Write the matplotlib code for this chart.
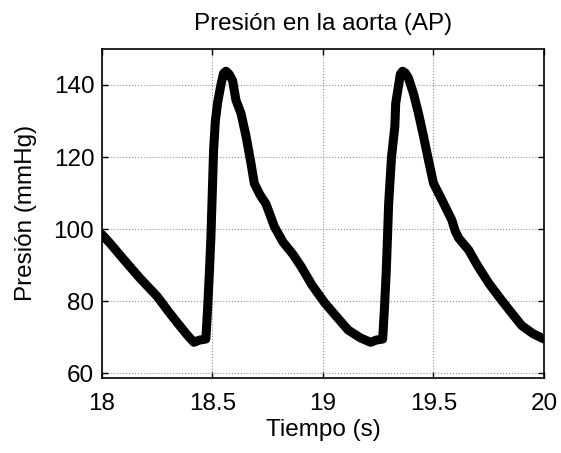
import numpy as np
import matplotlib
matplotlib.use("Agg")
import matplotlib.pyplot as plt

# aortic pressure trace (time in s, pressure in mmHg)
t = [18.000, 18.040, 18.098, 18.170, 18.250, 18.300, 18.341, 18.386, 18.416, 18.440,
     18.470, 18.478, 18.486, 18.493, 18.499, 18.505, 18.513, 18.523, 18.538, 18.550,
     18.561, 18.575, 18.591, 18.606, 18.629, 18.652, 18.674, 18.689, 18.715, 18.742,
     18.780, 18.818, 18.864, 18.901, 18.950, 19.007, 19.060, 19.114, 19.170, 19.216,
     19.240, 19.270, 19.278, 19.286, 19.292, 19.297, 19.310, 19.325, 19.329, 19.341,
     19.350, 19.360, 19.373, 19.386, 19.409, 19.432, 19.455, 19.477, 19.500, 19.538,
     19.583, 19.598, 19.614, 19.659, 19.700, 19.750, 19.795, 19.850, 19.900, 19.950,
     20.000]
p = [98.5, 95.8, 91.6, 86.5, 81.3, 77.2, 74.0, 70.6, 68.6, 69.2,
     69.5, 78.0, 88.0, 98.0, 110.0, 122.0, 130.0, 135.0, 140.0, 143.2,
     143.8, 143.0, 141.2, 135.8, 132.1, 125.7, 118.3, 112.7, 109.5, 107.0,
     100.7, 96.5, 93.0, 89.6, 84.5, 79.6, 75.8, 72.0, 69.8, 68.6,
     69.2, 69.5, 78.0, 88.0, 98.0, 107.0, 120.0, 128.4, 134.9, 139.5,
     143.0, 143.8, 143.3, 142.0, 137.7, 132.1, 125.7, 119.2, 112.7, 108.1,
     102.5, 99.5, 97.5, 94.2, 89.8, 85.0, 81.3, 77.0, 73.2, 71.0,
     69.5]

xticks = [18, 18.5, 19, 19.5, 20]
xtick_labels = ["18", "18.5", "19", "19.5", "20"]
yticks = [60, 80, 100, 120, 140]

plt.rcParams['font.family'] = ['Liberation Sans', 'DejaVu Sans']
fs = 17.5

fig = plt.figure(figsize=(5.61, 4.53), dpi=100)
ax = fig.add_axes([0.1818, 0.1656, 0.9697 - 0.1818, 0.8929 - 0.1656])

ax.plot(t, p, color='black', linewidth=6.5, solid_capstyle='round', solid_joinstyle='round')

ax.set_xlim(18, 20)
ax.set_ylim(58.7, 150.1)
ax.set_xticks(xticks)
ax.set_xticklabels(xtick_labels)
ax.set_yticks(yticks)

ax.grid(True, color='#909090', linestyle=':', linewidth=0.8)
ax.tick_params(direction='in', length=4, width=1, top=True, right=True,
               labelsize=fs, colors='black')
ax.tick_params(axis='x', pad=10.5)
ax.tick_params(axis='y', pad=5.5)
for s in ax.spines.values():
    s.set_linewidth(1.2)

ax.set_title('Presión en la aorta (AP)', fontsize=fs, pad=13.5)
ax.set_xlabel('Tiempo (s)', fontsize=fs, labelpad=3)
ax.set_ylabel('Presión (mmHg)', fontsize=fs, labelpad=12)

fig.savefig('out.png', dpi=100)
